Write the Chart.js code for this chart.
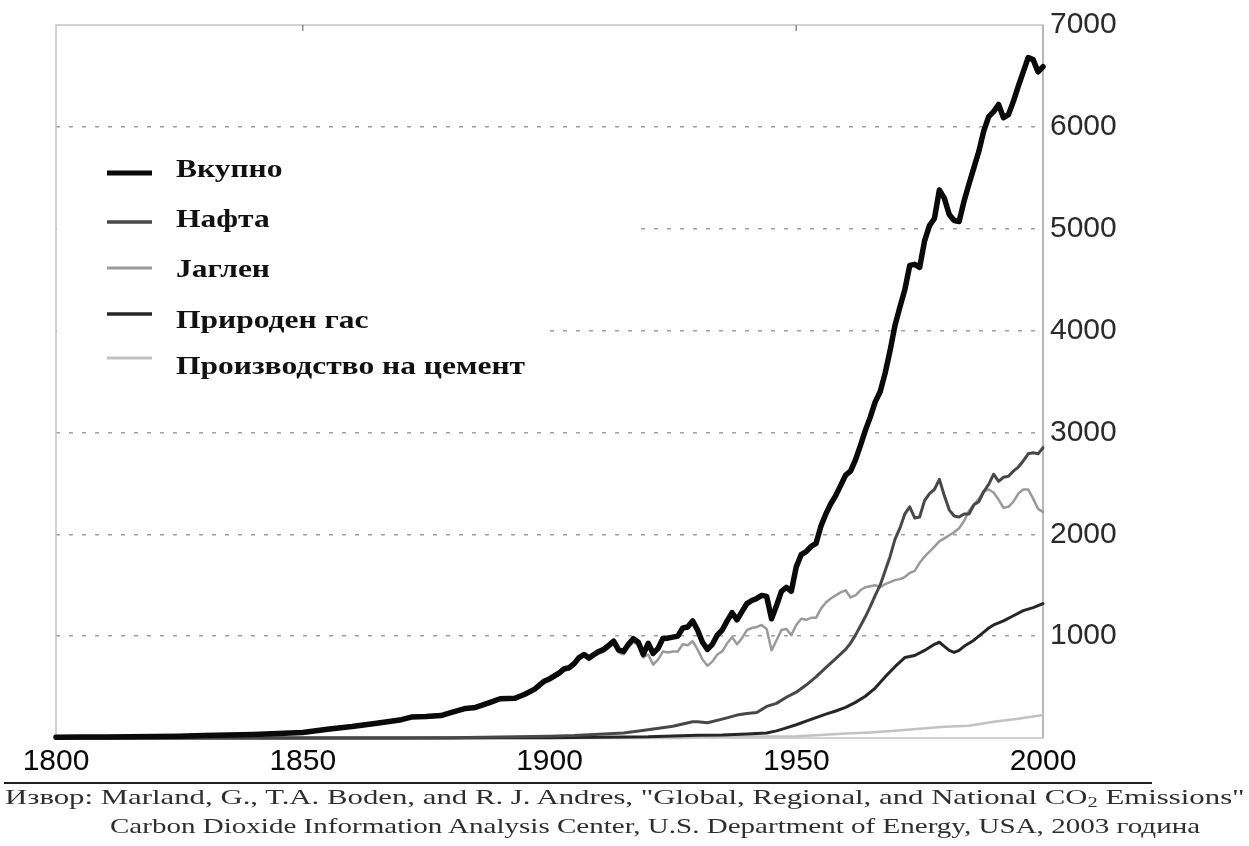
<!DOCTYPE html>
<html lang="mk">
<head>
<meta charset="utf-8">
<title>Емисии на CO2 од фосилни горива</title>
<script src="https://cdn.jsdelivr.net/npm/chart.js@4.4.0/dist/chart.umd.min.js"></script>
<style>
  html, body { margin: 0; padding: 0; background: #ffffff; }
  #wrap { position: relative; width: 1249px; height: 846px; overflow: hidden; }
  #chart { position: absolute; left: 0; top: 0; }
  #rule { position: absolute; left: 4px; top: 782px; width: 1148px; height: 2px; background: #1e1e1e; }
  .src { position: absolute; white-space: nowrap; font-family: "Liberation Serif", "Times New Roman", serif;
         font-size: 21px; line-height: 21px; color: #2e2e2e; transform-origin: 0 0; }
  .src sub { font-size: 14px; line-height: 0; vertical-align: -3px; }
</style>
</head>
<body>
<div id="wrap">
  <canvas id="chart" width="1249" height="846"></canvas>
  <div id="rule"></div>
  <div class="src" id="src1" style="left:5px; top:787px;">Извор: Marland, G., T.A. Boden, and R. J. Andres, "Global, Regional, and National CO<sub>2</sub> Emissions"</div>
  <div class="src" id="src2" style="left:110px; top:816px;">Carbon Dioxide Information Analysis Center, U.S. Department of Energy, USA, 2003 година</div>
</div>
<script>
// Global CO2 emissions by source, 1800-2000 (million tonnes of carbon)

const seriesLabels = ['Вкупно', 'Нафта', 'Јаглен', 'Природен гас', 'Производство на цемент'];

const totalYears = [1800,1805,1810,1815,1820,1825,1830,1835,1840,1845,1850,1855,1860,1865,1870,1872,1875,1878,1880,1883,1885,1888,1890,1893,1895,1897,1899,
  1900,1901,1902,1903,1904,1905,1906,1907,1908,1909,1910,1911,1912,1913,1914,1915,1916,1917,1918,1919,
  1920,1921,1922,1923,1924,1925,1926,1927,1928,1929,1930,1931,1932,1933,1934,1935,1936,1937,1938,1939,
  1940,1941,1942,1943,1944,1945,1946,1947,1948,1949,1950,1951,1952,1953,1954,1955,1956,1957,1958,1959,
  1960,1961,1962,1963,1964,1965,1966,1967,1968,1969,1970,1971,1972,1973,1974,1975,1976,1977,1978,1979,
  1980,1981,1982,1983,1984,1985,1986,1987,1988,1989,1990,1991,1992,1993,1994,1995,1996,1997,1998,1999,2000];
const totalValues = [8,10,11,13,15,18,24,29,35,45,55,85,112,145,180,205,210,220,250,290,300,350,385,390,430,480,560,
  580,610,640,680,690,730,790,820,785,820,850,870,910,950,865,850,920,975,940,820,
  930,830,880,980,980,990,1000,1080,1090,1150,1060,940,870,920,1010,1060,1150,1230,1160,1240,
  1320,1350,1370,1400,1390,1170,1300,1440,1480,1440,1680,1800,1830,1880,1910,2080,2200,2300,2380,2480,
  2580,2620,2730,2870,3020,3150,3300,3400,3580,3800,4050,4230,4400,4640,4650,4620,4880,5030,5100,5380,
  5300,5140,5080,5070,5270,5440,5600,5760,5960,6100,6150,6220,6090,6120,6250,6400,6540,6680,6660,6540,6590];

const oilYears = [1800,1860,1870,1880,1890,1900,1905,1910,1915,1920,1925,1929,1930,1932,1935,1938,1940,1942,1944,1946,1948,1950,1952,1954,1956,1958,1960,
  1961,1962,1963,1964,1965,1966,1967,1968,1969,1970,1971,1972,1973,1974,1975,1976,1977,1978,1979,1980,
  1981,1982,1983,1984,1985,1986,1987,1988,1989,1990,1991,1992,1993,1994,1995,1996,1997,1998,1999,2000];
const oilValues = [0,0,1,3,10,16,24,38,50,80,115,160,160,150,185,225,240,250,310,340,400,450,520,600,690,780,870,
  930,1010,1100,1190,1290,1400,1500,1640,1780,1950,2060,2200,2270,2160,2170,2330,2400,2440,2540,2380,
  2240,2180,2170,2200,2200,2290,2320,2420,2490,2590,2520,2560,2570,2620,2660,2720,2790,2800,2790,2850];

const coalYears = [1800,1805,1810,1815,1820,1825,1830,1835,1840,1845,1850,1855,1860,1865,1870,1872,1875,1878,1880,1883,1885,1888,1890,1893,1895,1897,1899,
  1900,1901,1902,1903,1904,1905,1906,1907,1908,1909,1910,1911,1912,1913,1914,1915,1916,1917,1918,1919,
  1920,1921,1922,1923,1924,1925,1926,1927,1928,1929,1930,1931,1932,1933,1934,1935,1936,1937,1938,1939,
  1940,1941,1942,1943,1944,1945,1946,1947,1948,1949,1950,1951,1952,1953,1954,1955,1956,1957,1958,1959,
  1960,1961,1962,1963,1964,1965,1966,1967,1968,1969,1970,1971,1972,1973,1974,1975,1976,1977,1978,1979,
  1980,1981,1982,1983,1984,1985,1986,1987,1988,1989,1990,1991,1992,1993,1994,1995,1996,1997,1998,1999,2000];
const coalValues = [8,10,11,13,15,18,24,29,35,45,55,85,112,144,178,203,207,216,246,285,293,343,378,383,420,468,546,
  562,592,622,662,672,712,772,802,767,800,828,846,884,922,838,822,890,944,908,790,
  820,720,770,850,840,850,850,920,910,950,870,770,710,750,820,850,930,990,920,980,
  1060,1080,1090,1110,1070,860,960,1060,1070,1010,1110,1170,1160,1180,1180,1270,1330,1370,1400,1430,
  1450,1380,1400,1450,1480,1490,1500,1480,1510,1530,1550,1560,1580,1620,1640,1720,1780,1830,1880,1930,
  1960,1990,2020,2060,2130,2230,2290,2350,2420,2440,2410,2340,2260,2270,2320,2400,2440,2440,2350,2250,2220];

const gasYears = [1800,1880,1890,1900,1910,1920,1925,1930,1935,1940,1944,1946,1948,1950,1952,1954,1956,1958,1960,1962,1964,1966,1968,1970,1972,1974,1976,1978,1979,
  1980,1981,1982,1983,1984,1985,1986,1987,1988,1989,1990,1992,1994,1996,1998,2000];
const gasValues = [0,1,2,3,7,12,20,28,30,40,50,70,100,130,165,200,235,265,300,350,410,490,600,700,790,810,860,920,940,
  900,860,840,860,900,930,960,1000,1040,1080,1110,1150,1200,1250,1280,1320];

const cementYears = [1800,1927,1930,1940,1950,1955,1960,1965,1970,1975,1980,1985,1990,1995,2000];
const cementValues = [0,0,10,15,18,30,43,55,70,90,110,120,160,190,225];

const xTicks = [1800, 1850, 1900, 1950, 2000];
const yTicks = [1000, 2000, 3000, 4000, 5000, 6000, 7000];

function pairs(years, values) {
  return years.map((y, i) => ({ x: y, y: values[i] }));
}

const lineBase = { pointRadius: 0, tension: 0, borderJoinStyle: 'round', borderCapStyle: 'round', clip: false, fill: false };

const datasets = [
  Object.assign({ label: seriesLabels[0], data: pairs(totalYears, totalValues),   borderColor: '#0a0a0a', borderWidth: 5.5, order: -1 }, lineBase),
  Object.assign({ label: seriesLabels[1], data: pairs(oilYears, oilValues),       borderColor: '#484848', borderWidth: 3,   order: 0 }, lineBase),
  Object.assign({ label: seriesLabels[2], data: pairs(coalYears, coalValues),     borderColor: '#9a9a9a', borderWidth: 2.5, order: 0 }, lineBase),
  Object.assign({ label: seriesLabels[3], data: pairs(gasYears, gasValues),       borderColor: '#262626', borderWidth: 3,   order: 0 }, lineBase),
  Object.assign({ label: seriesLabels[4], data: pairs(cementYears, cementValues), borderColor: '#c2c2c2', borderWidth: 2.5, order: 0 }, lineBase)
];

// Frame round the plot and the legend block drawn inside the plot, over the grid
const framePlugin = {
  id: 'frameAndLegend',
  beforeDatasetsDraw(chart) {
    const { ctx, chartArea: a } = chart;
    ctx.save();
    // legend background hides the grid lines behind it
    ctx.fillStyle = '#ffffff';
    ctx.fillRect(a.left + 1, 140, 632 - a.left, 160);
    ctx.fillRect(a.left + 1, 300, 542 - a.left, 100);
    // light frame
    ctx.strokeStyle = '#c4c4c4';
    ctx.lineWidth = 1.5;
    ctx.strokeRect(a.left, a.top, a.right - a.left, a.bottom - a.top);
    ctx.strokeStyle = '#b0b0b0';
    ctx.beginPath(); ctx.moveTo(a.right, a.top); ctx.lineTo(a.right, a.bottom); ctx.stroke();
    // small tick marks along the top edge
    ctx.strokeStyle = '#8a8a8a';
    ctx.lineWidth = 1.5;
    [1850, 1950].forEach(v => {
      const px = chart.scales.x.getPixelForValue(v);
      ctx.beginPath(); ctx.moveTo(px, a.top); ctx.lineTo(px, a.top + 6); ctx.stroke();
    });

    // legend entries
    const sampleY = [173, 222, 268, 314, 358];
    const textY = [170, 220, 270, 321, 367];
    const sampleW = [5, 3.5, 3, 3.5, 3];
    ctx.font = 'bold 26px "Liberation Serif", "Times New Roman", serif';
    ctx.textBaseline = 'middle';
    ctx.textAlign = 'left';
    const longest = chart.data.datasets.reduce((m, d) => Math.max(m, ctx.measureText(d.label).width), 0);
    const sx = 349 / longest;
    chart.data.datasets.forEach((d, i) => {
      ctx.strokeStyle = d.borderColor;
      ctx.lineWidth = sampleW[i];
      ctx.lineCap = 'butt';
      ctx.beginPath(); ctx.moveTo(107, sampleY[i]); ctx.lineTo(152, sampleY[i]); ctx.stroke();
      ctx.save();
      ctx.translate(176, textY[i]);
      ctx.scale(sx, 1);
      ctx.fillStyle = '#111111';
      ctx.fillText(d.label, 0, 0);
      ctx.restore();
    });
    ctx.restore();
  }
};

new Chart(document.getElementById('chart'), {
  type: 'line',
  data: { datasets },
  options: {
    responsive: false,
    animation: false,
    events: [],
    layout: { padding: { left: 56, top: 25, right: 106, bottom: 66 } },
    plugins: { legend: { display: false }, tooltip: { enabled: false } },
    scales: {
      x: {
        type: 'linear', min: 1800, max: 2000,
        afterBuildTicks: s => { s.ticks = xTicks.map(v => ({ value: v })); },
        afterFit: s => { s.height = 42; },
        grid: { display: false, drawTicks: false },
        border: { display: false },
        ticks: { padding: 6, maxRotation: 0, autoSkip: false, color: '#0a0a0a',
                 font: { family: '"Liberation Sans", Arial, sans-serif', size: 30 },
                 callback: v => String(v) }
      },
      y: {
        position: 'right', min: 0, max: 7000,
        afterBuildTicks: s => { s.ticks = [0].concat(yTicks).map(v => ({ value: v })); },
        afterFit: s => { s.width = 100; },
        grid: { drawTicks: false, lineWidth: 1.5,
                color: c => (c.tick && (c.tick.value === 0 || c.tick.value === 7000)) ? 'rgba(0,0,0,0)' : '#a0a0a0' },
        border: { display: false, dash: [4, 9] },
        ticks: { padding: 7, color: '#2a2a2a',
                 font: { family: '"Liberation Sans", Arial, sans-serif', size: 30 },
                 callback: v => v === 0 ? '' : String(v) }
      }
    }
  },
  plugins: [framePlugin]
});

// stretch the source lines to their full printed width
[['src1', 1240], ['src2', 1090]].forEach(([id, w]) => {
  const el = document.getElementById(id);
  el.style.transform = 'scaleX(' + (w / el.scrollWidth) + ')';
});
</script>
</body>
</html>
